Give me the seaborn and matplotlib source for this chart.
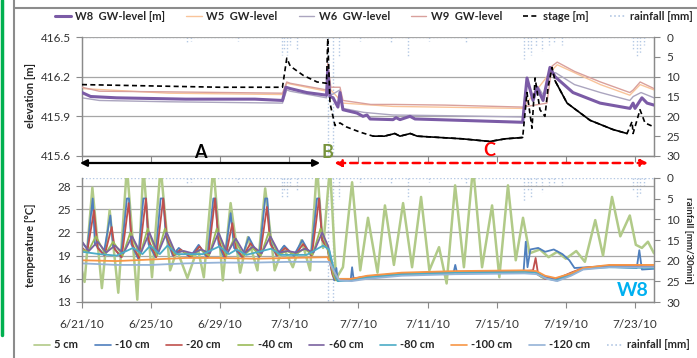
import numpy as np
import pandas as pd
import matplotlib
matplotlib.use('Agg')
import matplotlib.pyplot as plt
import matplotlib.dates as mdates
from matplotlib.lines import Line2D
import seaborn as sns

START = pd.Timestamp('2010-06-21')
X_END_DAYS = 33.1
TICK_DAYS = [0, 4, 8, 12, 16, 20, 24, 28, 32]

# all series: (days since 6/21/10 00:00, value)
STAGE = [(0, 416.14), (4, 416.13), (8, 416.12), (11.6, 416.12), (11.85, 416.34), (12.05, 416.28),
         (12.8, 416.21), (13.6, 416.16), (14.15, 416.15), (14.22, 416.49), (14.35, 416.0),
         (14.64, 415.83), (14.93, 415.85), (15.3, 415.82), (16.1, 415.78), (16.85, 415.75),
         (17.5, 415.75), (18.1, 415.77), (18.4, 415.75), (19.0, 415.77), (19.4, 415.75),
         (20.7, 415.74), (22, 415.73), (23.6, 415.71), (24.5, 415.73), (25.5, 415.74),
         (25.75, 416.08), (26.04, 415.81), (26.22, 416.19), (26.5, 415.95), (26.79, 415.9),
         (26.97, 416.12), (27.2, 416.27), (27.37, 416.17), (28.07, 416.0), (29.4, 415.87),
         (30.73, 415.8), (31.54, 415.77), (31.83, 415.86), (31.89, 415.77), (32.29, 415.95),
         (32.58, 415.85), (33.1, 415.82)]
STAGE_SOLID = [(16.8, 25.6), (27.3, 31.6)]

W8 = [(0, 416.08), (0.5, 416.05), (2, 416.04), (4, 416.035), (6, 416.03), (10, 416.03),
      (11.6, 416.02), (11.8, 416.12), (12.05, 416.11), (13, 416.08), (14.15, 416.06),
      (14.22, 416.25), (14.35, 416.05), (14.53, 416.04), (14.81, 415.97), (14.93, 416.08),
      (15.1, 415.95), (15.91, 415.925), (16.26, 415.9), (16.49, 415.91), (16.67, 415.88),
      (18.0, 415.875), (18.17, 415.89), (18.4, 415.875), (18.98, 415.9), (19.27, 415.88),
      (21.3, 415.872), (25.5, 415.855), (25.75, 416.19), (26.1, 416.02), (26.33, 416.12),
      (26.68, 416.02), (27.08, 416.27), (27.37, 416.2), (28.41, 416.08), (29.98, 416.0),
      (31.71, 415.96), (31.89, 416.0), (32.0, 415.96), (32.4, 416.04), (32.7, 416.0),
      (33.1, 415.985)]
W5 = [(0, 416.11), (5, 416.075), (11.6, 416.065), (11.85, 416.15), (14.15, 416.09),
      (14.22, 416.28), (14.4, 416.1), (15.1, 416.0), (18, 415.975), (25.5, 415.96),
      (27.2, 416.25), (27.5, 416.29), (30, 416.14), (31.7, 416.06), (32.3, 416.14),
      (33.1, 416.1)]
W6 = [(0, 416.04), (1, 416.02), (5, 416.01), (11.6, 416.0), (11.85, 416.1), (12.05, 416.09),
      (14.15, 416.04), (14.22, 416.2), (14.4, 416.06), (14.93, 416.1), (15.1, 415.96),
      (16.3, 415.93), (18, 415.91), (21, 415.905), (25.5, 415.895), (25.75, 416.15),
      (26.1, 416.05), (26.4, 416.12), (26.7, 416.06), (27.1, 416.22), (27.4, 416.23),
      (28.5, 416.14), (30, 416.08), (31.7, 416.02), (31.9, 416.05), (32.35, 416.08),
      (33.1, 416.04)]
W9 = [(0, 416.12), (1, 416.09), (5, 416.085), (11.6, 416.075), (11.85, 416.16), (12.05, 416.15),
      (14.15, 416.1), (14.22, 416.3), (14.4, 416.12), (14.93, 416.12), (15.1, 416.02),
      (16.7, 415.99), (18, 415.99), (21, 415.985), (25.5, 415.97), (26.9, 416.0),
      (27.2, 416.28), (27.5, 416.31), (28.5, 416.24), (30, 416.16), (31.7, 416.08),
      (31.9, 416.1), (32.3, 416.16), (33.1, 416.11)]

RAIN_T = [6.1, 6.3, 9.0, 11.55, 11.7, 11.85, 12.05, 12.45, 14.22, 14.55, 14.9, 16.1, 17.9,
          18.85, 20.1, 22.2, 25.6, 25.8, 26.0, 26.3, 26.6, 27.0, 27.3, 27.8, 31.9, 32.1,
          32.3, 32.5]
RAIN_MM = [1.5, 1.0, 1.0, 4.5, 3.0, 4.6, 2.0, 3.0, 30, 30, 5.0, 1.0, 1.2, 5.0, 1.0, 1.5,
           5.5, 3.0, 4.5, 2.5, 3.5, 2.0, 1.5, 2.0, 3.0, 5.0, 4.0, 2.0]

T5 = [(0, 17.0), (0.15, 15.6), (0.6, 27.8), (1.15, 14.8), (1.6, 24.9), (2.1, 14.2), (2.6, 30.5),
      (3.2, 13.3), (3.55, 30.5), (4.05, 16.2), (4.55, 30.5), (5.1, 17.1), (5.5, 19.7),
      (6.1, 16.1), (6.7, 20.0), (7.05, 16.2), (7.6, 30.5), (8.15, 15.8), (8.6, 25.8),
      (9.15, 16.8), (9.6, 21.4), (10.15, 17.1), (10.6, 27.7), (11.15, 17.1), (11.65, 20.1),
      (12.2, 17.5), (12.7, 21.0), (13.2, 17.1), (13.6, 30.5), (13.95, 20.0), (14.35, 30.5),
      (14.7, 16.0), (15.1, 17.5), (15.63, 28.5), (16.1, 17.1), (16.55, 23.9), (17.1, 16.8),
      (17.53, 25.5), (18.05, 17.8), (18.58, 25.8), (19.1, 17.5), (19.62, 26.6), (20.1, 17.1),
      (20.66, 20.1), (21.1, 15.4), (21.59, 28.1), (22.1, 17.5), (22.63, 30.5), (23.15, 17.5),
      (23.73, 25.5), (24.15, 16.2), (24.65, 28.1), (25.1, 18.4), (25.52, 23.9), (25.9, 19.3),
      (26.5, 19.8), (27.0, 18.8), (27.5, 19.5), (28.0, 18.6), (28.6, 19.6), (29.1, 18.2),
      (29.7, 23.6), (30.15, 19.0), (30.67, 26.6), (31.15, 21.5), (31.7, 24.2), (32.05, 20.4),
      (32.4, 20.0), (32.75, 20.8), (33.1, 19.3)]
T10 = [(0.0, 20.8), (0.3, 19.8), (0.62, 26.4), (0.75, 20.5), (1.25, 19.2), (1.64, 24.2),
       (1.8, 20.2), (2.25, 18.8), (2.6, 26.4), (2.72, 26.4), (2.85, 20.5), (3.25, 18.6),
       (3.55, 26.4), (3.7, 26.4), (3.85, 20.5), (4.25, 18.8), (4.55, 26.4), (4.7, 26.4),
       (4.85, 21.5), (5.25, 19.0), (5.6, 20.0), (6.25, 18.8), (6.75, 20.4), (7.25, 18.7),
       (7.6, 26.4), (7.72, 26.4), (7.9, 20.5), (8.25, 18.6), (8.6, 24.5), (8.8, 20.0),
       (9.25, 18.8), (9.65, 21.4), (10.25, 18.8), (10.6, 26.4), (10.72, 26.4), (10.9, 20.8),
       (11.25, 19.0), (11.7, 20.3), (12.25, 19.0), (12.75, 21.0), (13.25, 19.0), (13.6, 26.4),
       (13.72, 26.4), (13.9, 21.0), (14.2, 20.0), (14.45, 17.0), (14.6, 15.8), (14.72, 17.4),
       (14.8, 15.8), (15.55, 15.9), (15.63, 17.5), (15.72, 15.9), (16.5, 16.2), (18.5, 16.6),
       (21.5, 16.8), (21.6, 17.8), (21.7, 16.8), (25.55, 16.9), (25.68, 20.8), (25.78, 17.5),
       (25.95, 19.8), (26.4, 20.0), (26.8, 19.5), (27.3, 19.8), (27.8, 19.2), (28.2, 18.4),
       (28.5, 17.4), (30, 17.6), (32.1, 17.4), (32.25, 19.7), (32.4, 17.2), (33.1, 17.3)]
T20 = [(0.0, 20.0), (0.3, 19.5), (0.7, 24.9), (0.9, 20.0), (1.3, 19.0), (1.72, 22.7),
       (1.9, 19.8), (2.3, 18.8), (2.7, 25.8), (2.9, 20.5), (3.3, 18.7), (3.7, 26.4),
       (3.85, 21.0), (4.3, 18.8), (4.7, 26.4), (4.9, 21.5), (5.3, 19.0), (5.7, 19.8),
       (6.3, 18.8), (6.8, 20.2), (7.3, 18.8), (7.7, 26.4), (7.9, 21.0), (8.3, 18.7),
       (8.7, 23.2), (8.9, 20.0), (9.3, 18.8), (9.75, 20.6), (10.3, 18.9), (10.7, 25.3),
       (10.9, 20.5), (11.3, 19.0), (11.75, 20.0), (12.3, 19.0), (12.8, 20.5), (13.3, 19.0),
       (13.72, 26.4), (13.9, 21.0), (14.2, 20.0), (14.5, 16.5), (14.65, 15.9), (15.6, 16.0),
       (16.5, 16.3), (18.5, 16.7), (21.6, 16.9), (25.6, 17.0), (26.1, 17.1), (26.25, 18.7),
       (26.4, 16.5), (26.8, 16.0), (27.5, 16.0), (28.3, 16.8), (29.0, 17.4), (30.5, 17.7),
       (33.1, 17.6)]
T40 = [(0, 19.8), (0.35, 19.5), (0.8, 21.5), (1.35, 19.2), (1.8, 20.8), (2.35, 19.0),
       (2.8, 22.0), (3.35, 19.0), (3.8, 22.5), (4.35, 19.0), (4.8, 22.5), (5.35, 19.2),
       (5.8, 19.6), (6.35, 19.0), (6.85, 19.8), (7.35, 19.0), (7.8, 22.5), (8.35, 19.0),
       (8.8, 21.2), (9.35, 19.0), (9.85, 20.0), (10.35, 19.0), (10.8, 22.0), (11.35, 19.1),
       (11.85, 19.6), (12.35, 19.1), (12.85, 19.9), (13.35, 19.1), (13.8, 22.5), (14.2, 20.0),
       (14.55, 16.5), (14.7, 15.8), (15.6, 15.9), (16.5, 16.2), (18.5, 16.6), (21.6, 16.8),
       (25.6, 16.9), (26.2, 16.9), (26.6, 16.2), (27.3, 15.9), (28.2, 16.6), (29.0, 17.3),
       (30.5, 17.6), (33.1, 17.5)]
T60 = [(0, 20.8), (0.4, 19.6), (0.9, 20.8), (1.4, 19.4), (1.9, 20.3), (2.4, 19.3), (2.9, 21.5),
       (3.4, 19.3), (3.9, 22.0), (4.4, 19.3), (4.9, 22.0), (5.4, 19.4), (5.9, 19.6),
       (6.4, 19.3), (6.9, 19.8), (7.4, 19.3), (7.9, 22.0), (8.4, 19.3), (8.9, 21.2),
       (9.4, 19.3), (9.9, 20.2), (10.4, 19.3), (10.9, 21.5), (11.4, 19.4), (11.9, 19.6),
       (12.4, 19.4), (12.9, 19.9), (13.4, 19.4), (13.9, 22.0), (14.25, 20.2), (14.6, 16.8),
       (14.75, 15.9), (15.6, 16.0), (16.5, 16.3), (18.5, 16.7), (21.6, 16.9), (25.6, 17.0),
       (26.2, 16.9), (26.7, 16.3), (27.4, 16.0), (28.2, 16.6), (29.0, 17.3), (30.5, 17.6),
       (33.1, 17.5)]
T80 = [(0, 19.5), (1, 19.2), (2, 19.0), (2.95, 20.0), (3.5, 19.2), (3.95, 20.3), (4.5, 19.2),
       (4.95, 20.3), (5.5, 19.2), (7.0, 19.2), (7.95, 20.2), (8.5, 19.2), (8.95, 19.8),
       (9.5, 19.1), (10.95, 19.9), (11.5, 19.1), (13.0, 19.1), (13.95, 20.3), (14.3, 19.8),
       (14.65, 16.5), (14.8, 15.7), (15.6, 15.8), (16.5, 16.2), (18.5, 16.6), (21.6, 16.8),
       (25.6, 16.9), (26.3, 16.8), (26.8, 16.1), (27.4, 15.8), (28.3, 16.5), (29.0, 17.3),
       (30.5, 17.5), (33.1, 17.4)]
T100 = [(0, 18.4), (2, 18.3), (4, 18.5), (6, 18.7), (8, 18.7), (10, 18.6), (12, 18.7),
        (14.2, 18.8), (14.6, 16.8), (14.85, 16.0), (15.6, 16.0), (16.5, 16.4), (18.5, 16.8),
        (21.6, 17.0), (25.6, 17.1), (26.3, 17.0), (26.8, 16.4), (27.4, 16.1), (28.3, 16.7),
        (29, 17.4), (30.5, 17.8), (33.1, 17.8)]
T120 = [(0, 18.0), (2, 17.8), (4, 17.8), (6, 18.0), (8, 18.1), (10, 18.1), (12, 18.2),
        (14.3, 18.2), (14.7, 16.5), (14.9, 15.8), (15.6, 15.7), (16.5, 16.0), (18.5, 16.4),
        (21.6, 16.6), (25.6, 16.7), (26.3, 16.6), (26.9, 16.0), (27.5, 15.7), (28.3, 16.4),
        (29, 17.2), (30.5, 17.5), (33.1, 17.5)]

GW_SERIES = [('W8  GW-level [m]', W8, '#7B5BA6', 2.2, 4),
             ('W5  GW-level', W5, '#F9C49A', 1.0, 2),
             ('W6  GW-level', W6, '#ABA5BF', 1.0, 2),
             ('W9  GW-level', W9, '#D9A09C', 1.0, 3)]
TEMP_SERIES = [('5 cm', T5, '#B1CA88', 1.8),
               ('-10 cm', T10, '#4F7FBD', 1.3),
               ('-20 cm', T20, '#C0504D', 1.3),
               ('-40 cm', T40, '#9BBB59', 1.3),
               ('-60 cm', T60, '#7A62A0', 1.3),
               ('-80 cm', T80, '#4BACC6', 1.3),
               ('-100 cm', T100, '#F79646', 1.3),
               ('-120 cm', T120, '#95B3D7', 1.3)]
RAIN_COLOR = '#B4C8E4'
RAIN_LS = (0, (1, 1.5))


def to_dates(days):
    return START + pd.to_timedelta(np.asarray(days, dtype=float), unit='D')


def split(series):
    arr = np.array(series, dtype=float)
    return to_dates(arr[:, 0]), arr[:, 1]


sns.set_theme(style='white')
plt.rcParams['font.family'] = ['Lato', 'DejaVu Sans']

fig = plt.figure(figsize=(6.97, 3.58), dpi=100)
W, H = 697, 358
ax_top = fig.add_axes([82 / W, 1 - 156 / H, 572 / W, 119 / H])
ax_bot = fig.add_axes([82 / W, 1 - 302 / H, 572 / W, 124 / H], sharex=ax_top)
ax_top_r = ax_top.twinx()
ax_bot_r = ax_bot.twinx()

# --- groundwater levels and stage ---
for label, s, color, lw, z in GW_SERIES:
    x, y = split(s)
    sns.lineplot(x=x, y=y, ax=ax_top, color=color, lw=lw, zorder=z, sort=False, legend=False)

sx, sy = split(STAGE)
ax_top.plot(sx, sy, color='black', lw=1.2, ls=(0, (3, 2)), zorder=5)
st_days = np.array(STAGE)[:, 0]
solid_mask = np.zeros(len(st_days), dtype=bool)
for a, b in STAGE_SOLID:
    solid_mask |= (st_days >= a) & (st_days <= b)
ax_top.plot(sx, np.where(solid_mask, sy, np.nan), color='black', lw=1.2, zorder=5)

# --- soil temperatures ---
for label, s, color, lw in TEMP_SERIES:
    x, y = split(s)
    sns.lineplot(x=x, y=y, ax=ax_bot, color=color, lw=lw, sort=False, legend=False)

# --- rainfall on inverted secondary axes ---
rain_x = mdates.date2num(to_dates(RAIN_T))
for axr in (ax_top_r, ax_bot_r):
    axr.vlines(rain_x, 0, RAIN_MM, colors=RAIN_COLOR, linestyles=RAIN_LS, lw=1.0)
    axr.axhline(0, color=RAIN_COLOR, ls=RAIN_LS, lw=1.0)
    axr.set_ylim(30, 0)
    axr.set_yticks([0, 5, 10, 15, 20, 25, 30])
    axr.tick_params(axis='y', labelsize=8.5, labelcolor='#333333', color='#8a8a8a',
                    length=4, width=0.8, pad=5, right=True)
    axr.grid(False)

ax_top.set_ylim(415.6, 416.5)
ax_top.set_yticks([415.6, 415.9, 416.2, 416.5])
ax_top.set_yticklabels(['415.6', '415.9', '416.2', '416.5'])
ax_bot.set_ylim(13, 29.05)
ax_bot.set_yticks([13, 16, 19, 22, 25, 28])

ax_top.set_xlim(START, START + pd.Timedelta(days=X_END_DAYS))
tick_dates = to_dates(TICK_DAYS)
ax_bot.set_xticks(tick_dates)
ax_bot.set_xticklabels([f'{d.month}/{d.day}/{d.year % 100}' for d in tick_dates])
ax_top.tick_params(axis='x', labelbottom=False)

for ax in (ax_top, ax_bot, ax_top_r, ax_bot_r):
    ax.spines['top'].set_visible(False)
    for side in ('left', 'right', 'bottom'):
        ax.spines[side].set_color('#8a8a8a')
        ax.spines[side].set_linewidth(0.9)
    ax.set_xlabel('')
    ax.set_ylabel('')
for ax in (ax_top, ax_bot):
    ax.grid(True, axis='y', color='#a6a6a6', lw=0.9)
    ax.grid(False, axis='x')
    ax.tick_params(axis='y', labelsize=8.5, labelcolor='#333333', color='#8a8a8a',
                   length=4, width=0.8, pad=4, left=True)
    ax.tick_params(axis='x', labelsize=8.5, labelcolor='#333333', color='#8a8a8a',
                   length=4, width=0.8, pad=8, bottom=True, direction='out')
ax_top_r.set_zorder(ax_top.get_zorder() - 1)
ax_bot_r.set_zorder(ax_bot.get_zorder() - 1)
ax_top.patch.set_visible(False)
ax_bot.patch.set_visible(False)

# axis titles
fig.text(31 / W, 1 - 95 / H, 'elevation [m]', rotation=90, ha='center', va='center',
         fontsize=8, fontweight='bold', color='#262626')
fig.text(31 / W, 1 - 245 / H, 'temperature [°C]', rotation=90, ha='center', va='center',
         fontsize=8, fontweight='bold', color='#262626')
fig.text(689 / W, 1 - 240 / H, 'rainfall [mm/30min]', rotation=270, ha='center', va='center',
         fontsize=7, fontweight='bold', color='#262626')

# period arrows and letters
ynum = 1 - 163 / H
xa0, xa1 = mdates.date2num(to_dates([-0.12, 13.78]))
xc0, xc1 = mdates.date2num(to_dates([14.6, 32.75]))
ax_top.annotate('', xy=(xa0, ynum), xytext=(xa1, ynum), xycoords=('data', 'figure fraction'),
                textcoords=('data', 'figure fraction'), annotation_clip=False,
                arrowprops=dict(arrowstyle='<|-|>', color='black', lw=1.6, mutation_scale=10,
                                shrinkA=0, shrinkB=0))
ax_top.annotate('', xy=(xc0, ynum), xytext=(xc1, ynum), xycoords=('data', 'figure fraction'),
                textcoords=('data', 'figure fraction'), annotation_clip=False,
                arrowprops=dict(arrowstyle='<|-|>', color='#FF0000', lw=1.8, ls=(0, (3, 2)),
                                mutation_scale=10, shrinkA=0, shrinkB=0))
fig.text(200 / W, 1 - 152 / H, 'A', ha='center', va='center', fontsize=13,
         fontweight='bold', color='black')
fig.text(327 / W, 1 - 153 / H, 'B', ha='center', va='center', fontsize=13,
         fontweight='bold', color='#77933C')
fig.text(489 / W, 1 - 151 / H, 'C', ha='center', va='center', fontsize=13,
         fontweight='bold', color='#FF0000')
fig.text(633 / W, 1 - 290 / H, 'W8', ha='center', va='center', fontsize=14,
         fontweight='bold', color='#00B0F0')

# legends
top_handles = [Line2D([], [], color=c, lw=lw) for _, _, c, lw, _ in GW_SERIES]
top_handles += [Line2D([], [], color='black', lw=1.2, ls=(0, (3, 2))),
                Line2D([], [], color=RAIN_COLOR, lw=1.2, ls=RAIN_LS)]
top_labels = [l for l, *_ in GW_SERIES] + ['stage [m]', 'rainfall [mm]']
fig.legend(top_handles, top_labels, loc='center', bbox_to_anchor=(374 / W, 1 - 16 / H),
           ncol=6, frameon=False, handlelength=1.4, handletextpad=0.4, columnspacing=1.9,
           prop={'size': 8, 'weight': 'bold'}, labelcolor='#262626')
bot_handles = [Line2D([], [], color=c, lw=1.2) for _, _, c, _ in TEMP_SERIES]
bot_handles += [Line2D([], [], color=RAIN_COLOR, lw=1.2, ls=RAIN_LS)]
bot_labels = [l for l, *_ in TEMP_SERIES] + ['rainfall [mm]']
fig.legend(bot_handles, bot_labels, loc='center', bbox_to_anchor=(362 / W, 1 - 345 / H),
           ncol=9, frameon=False, handlelength=1.4, handletextpad=0.4, columnspacing=1.5,
           prop={'size': 8, 'weight': 'bold'}, labelcolor='#262626')

# outer frame decorations of the original figure
fig.add_artist(Line2D([14 / W, 14 / W], [0, 1], color='#8c8c8c', lw=1.5, transform=fig.transFigure))
fig.add_artist(Line2D([14 / W, 1], [1 - 8 / H, 1 - 8 / H], color='#8c8c8c', lw=1.5,
                      transform=fig.transFigure))
fig.add_artist(Line2D([1.5 / W, 1.5 / W], [1 - 335 / H, 1], color='#00B050', lw=2.5,
                      transform=fig.transFigure))

fig.savefig('out.png', dpi=100)
